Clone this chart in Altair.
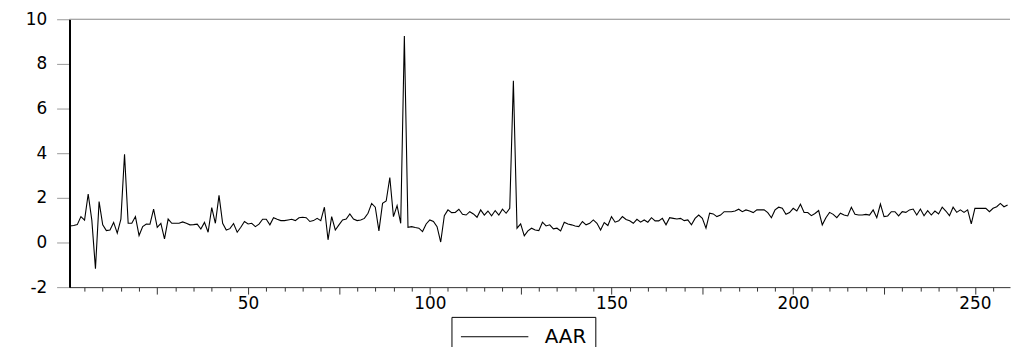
import altair as alt
import pandas as pd

aar = [
    0.74, 0.76, 0.80, 1.16, 1.00, 2.17, 1.00, -1.17, 1.83, 0.79,
    0.53, 0.56, 0.90, 0.42, 1.05, 3.95, 0.86, 0.86, 1.16, 0.31,
    0.71, 0.83, 0.82, 1.49, 0.68, 0.86, 0.16, 1.05, 0.86, 0.86,
    0.86, 0.92, 0.86, 0.79, 0.80, 0.82, 0.60, 0.90, 0.46, 1.56,
    0.86, 2.11, 0.86, 0.56, 0.62, 0.85, 0.46, 0.68, 0.94, 0.83,
    0.86, 0.71, 0.82, 1.04, 1.04, 0.79, 1.11, 1.04, 0.98, 0.98,
    1.01, 1.04, 0.98, 1.11, 1.13, 1.11, 0.94, 0.98, 1.08, 0.98,
    1.58, 0.12, 1.16, 0.56, 0.79, 1.01, 1.05, 1.28, 1.05, 0.98,
    1.01, 1.08, 1.31, 1.75, 1.58, 0.52, 1.75, 1.86, 2.91, 1.16,
    1.65, 0.86, 9.25, 0.68, 0.71, 0.67, 0.64, 0.49, 0.83, 1.01,
    0.94, 0.71, 0.02, 1.20, 1.46, 1.34, 1.35, 1.49, 1.26, 1.23,
    1.38, 1.28, 1.13, 1.46, 1.23, 1.41, 1.19, 1.43, 1.23, 1.49,
    1.31, 1.53, 7.25, 0.64, 0.83, 0.30, 0.52, 0.64, 0.56, 0.53,
    0.91, 0.74, 0.79, 0.61, 0.64, 0.52, 0.91, 0.83, 0.79, 0.74,
    0.71, 0.94, 0.79, 0.86, 1.01, 0.86, 0.56, 0.89, 0.76, 1.16,
    0.91, 0.97, 1.16, 1.03, 0.97, 0.86, 1.04, 0.91, 1.01, 0.91,
    1.11, 0.97, 0.97, 1.08, 0.79, 1.11, 1.08, 1.05, 1.08, 0.98,
    1.01, 0.79, 1.08, 1.23, 1.08, 0.64, 1.31, 1.28, 1.16, 1.23,
    1.38, 1.38, 1.38, 1.41, 1.49, 1.38, 1.46, 1.41, 1.34, 1.46,
    1.46, 1.46, 1.34, 1.11, 1.46, 1.58, 1.53, 1.26, 1.34, 1.53,
    1.41, 1.71, 1.35, 1.34, 1.20, 1.30, 1.43, 0.79, 1.11, 1.35,
    1.26, 1.11, 1.31, 1.23, 1.19, 1.58, 1.26, 1.23, 1.23, 1.26,
    1.23, 1.46, 1.11, 1.72, 1.16, 1.19, 1.38, 1.38, 1.19, 1.38,
    1.35, 1.46, 1.50, 1.23, 1.50, 1.20, 1.43, 1.23, 1.41, 1.28,
    1.58, 1.41, 1.20, 1.58, 1.35, 1.46, 1.35, 1.46, 0.83, 1.53,
    1.53, 1.53, 1.53, 1.38, 1.53, 1.60, 1.75, 1.60, 1.68,
]
obs = list(range(1, len(aar) + 1))
series_name = "AAR"

x_tick_values = list(range(5, 260, 5))
y_tick_values = [-2, 0, 2, 4, 6, 8, 10]

df = pd.DataFrame({"obs": obs, "value": aar, "series": [series_name] * len(aar)})
top_df = pd.DataFrame({"y": [max(y_tick_values)]})

FONT = "DejaVu Sans"

x_axis = alt.Axis(
    values=x_tick_values,
    title=None,
    grid=False,
    domainColor="#333333",
    domainWidth=1,
    tickColor="#333333",
    tickWidth=1,
    tickSize={"condition": {"test": "datum.value % 25 === 0", "value": 7}, "value": 4},
    labelExpr="datum.value % 50 === 0 ? toString(datum.value) : ''",
    labelOverlap=False,
    labelFlush=False,
    labelFont=FONT,
    labelFontSize=17,
    labelColor="black",
    labelPadding=2,
)

y_axis = alt.Axis(
    values=y_tick_values,
    title=None,
    grid=False,
    domainColor="black",
    domainWidth=2,
    tickColor="#999999",
    tickWidth=1,
    tickSize=13,
    labelPadding=10,
    labelExpr="toString(datum.value)",
    labelFont=FONT,
    labelFontSize=17,
    labelColor="black",
)

line = alt.Chart(df).mark_line(strokeWidth=1.1).encode(
    x=alt.X("obs:Q", scale=alt.Scale(domain=[0.86, 259.66], nice=False, zero=False), axis=x_axis),
    y=alt.Y("value:Q", scale=alt.Scale(domain=[-2, 10], nice=False, zero=False), axis=y_axis),
    color=alt.Color(
        "series:N",
        scale=alt.Scale(range=["black"]),
        legend=alt.Legend(
            title=None,
            orient="none",
            legendX=385,
            legendY=300,
            strokeColor="black",
            fillColor="white",
            padding=9,
            symbolType="stroke",
            symbolSize=4624,
            symbolStrokeWidth=1,
            clipHeight=22,
            labelFont=FONT,
            labelFontSize=20,
            labelColor="black",
            labelOffset=16,
        ),
    ),
)

top_rule = alt.Chart(top_df).mark_rule(color="#888888", strokeWidth=1).encode(
    y=alt.Y("y:Q", title=None)
)

chart = (
    alt.layer(line, top_rule)
    .properties(
        width=948,
        height=270,
        autosize=alt.AutoSizeParams(type="none"),
        padding={"left": 62, "top": 10, "right": 2, "bottom": 60},
        background="white",
    )
    .configure_view(strokeWidth=0)
)

chart.save("out.html", embed_options={"renderer": "svg", "actions": False})
